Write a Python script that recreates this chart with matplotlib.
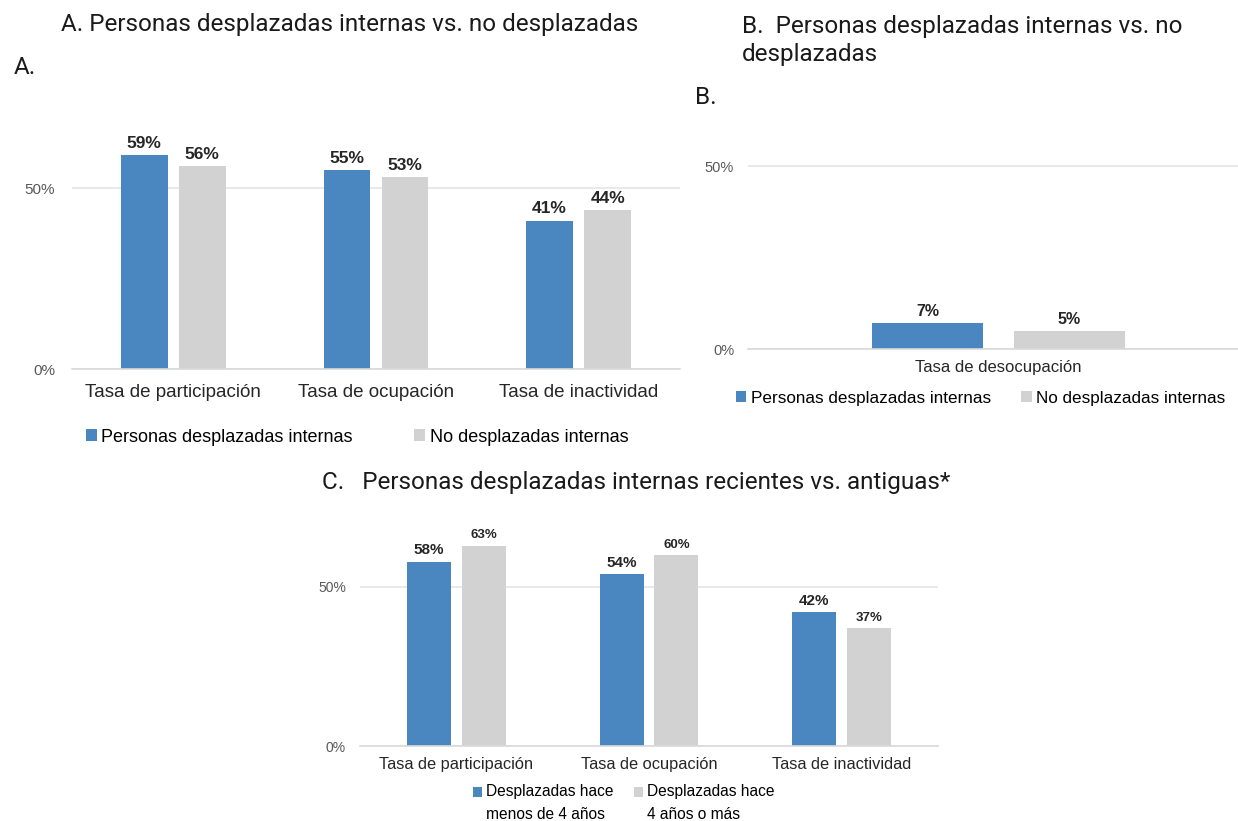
import numpy as np
import matplotlib
matplotlib.use("Agg")
import matplotlib.pyplot as plt
from matplotlib.patches import Rectangle
from matplotlib.container import BarContainer
from matplotlib.legend_handler import HandlerPatch, update_from_first_child

plt.rcParams['font.family'] = ['Liberation Sans', 'DejaVu Sans']

# data
cats_a = ["Tasa de participación", "Tasa de ocupación", "Tasa de inactividad"]
desplazadas_a = [0.59, 0.55, 0.41]
no_desplazadas_a = [0.56, 0.53, 0.44]

cats_b = ["Tasa de desocupación"]
desplazadas_b = [0.07]
no_desplazadas_b = [0.05]

cats_c = ["Tasa de participación", "Tasa de ocupación", "Tasa de inactividad"]
recientes_c = [0.58, 0.54, 0.42]
antiguas_c = [0.63, 0.60, 0.37]

BLUE = '#4a86c0'
GRAY = '#d2d2d2'
W, H = 1238, 821

fig = plt.figure(figsize=(W / 100, H / 100), dpi=100)


def box(x0, x1, ytop, ybot):
    return [x0 / W, 1 - ybot / H, (x1 - x0) / W, (ybot - ytop) / H]


def style(ax, pad_y, pad_x, ysize, xsize):
    ax.set_ylim(0, 0.7)
    ax.set_yticks([0, 0.5])
    ax.set_yticklabels(['0%', '50%'])
    for s in ['top', 'right', 'left']:
        ax.spines[s].set_visible(False)
    ax.spines['bottom'].set_color('#d9d9d9')
    ax.spines['bottom'].set_linewidth(1.2)
    ax.yaxis.grid(True, color='#e3e3e3', linewidth=1.1)
    ax.set_axisbelow(True)
    ax.tick_params(axis='y', length=0, pad=pad_y, labelsize=ysize, labelcolor='#595959')
    ax.tick_params(axis='x', length=0, pad=pad_x, labelsize=xsize, labelcolor='#262626')


def labels(ax, bars, vals, size):
    for b, v in zip(bars, vals):
        ax.annotate(f"{v:.0%}", (b.get_x() + b.get_width() / 2, v),
                    xytext=(0, 3), textcoords='offset points',
                    ha='center', va='bottom', fontsize=size,
                    fontweight='bold', color='#262626')


# ---- A ----
ax_a = fig.add_axes(box(72, 680, 369 - 0.7 * 362, 369))
x = np.arange(len(cats_a))
b1 = ax_a.bar(x - 0.143, desplazadas_a, 0.23, color=BLUE, label='Personas desplazadas internas')
b2 = ax_a.bar(x + 0.143, no_desplazadas_a, 0.23, color=GRAY, label='No desplazadas internas')
ax_a.set_xlim(-0.5, 2.5)
ax_a.set_xticks(x)
ax_a.set_xticklabels(cats_a)
style(ax_a, 12, 11, 11, 13.5)
labels(ax_a, b1, desplazadas_a, 12.5)
labels(ax_a, b2, no_desplazadas_a, 12.5)
ax_a.legend(loc='center left', bbox_to_anchor=(86 / W, 1 - 437 / H),
            bbox_transform=fig.transFigure, ncol=2, frameon=False,
            fontsize=13, handlelength=0.6, handleheight=0.6,
            handletextpad=0.25, columnspacing=3.4, borderpad=0, borderaxespad=0)

# ---- B ----
ax_b = fig.add_axes(box(748, 1238, 349 - 0.7 * 366, 349))
xb = np.arange(len(cats_b))
b3 = ax_b.bar(xb - 0.141, desplazadas_b, 0.222, color=BLUE, label='Personas desplazadas internas')
b4 = ax_b.bar(xb + 0.141, no_desplazadas_b, 0.222, color=GRAY, label='No desplazadas internas')
ax_b.set_xlim(-0.5, 0.478)
ax_b.set_xticks(xb)
ax_b.set_xticklabels(cats_b)
style(ax_b, 10, 8, 10.5, 12)
labels(ax_b, b3, desplazadas_b, 11.5)
labels(ax_b, b4, no_desplazadas_b, 11.5)
ax_b.legend(loc='center left', bbox_to_anchor=(736 / W, 1 - 398 / H),
            bbox_transform=fig.transFigure, ncol=2, frameon=False,
            fontsize=12.3, handlelength=0.6, handleheight=0.6,
            handletextpad=0.25, columnspacing=1.8, borderpad=0, borderaxespad=0)

# ---- C ----
ax_c = fig.add_axes(box(360, 938, 746 - 0.7 * 318, 746))
xc = np.arange(len(cats_c))
b5 = ax_c.bar(xc - 0.142, recientes_c, 0.228, color=BLUE,
              label='Desplazadas hace\nmenos de 4 años')
b6 = ax_c.bar(xc + 0.142, antiguas_c, 0.228, color=GRAY,
              label='Desplazadas hace\n4 años o más')
ax_c.set_xlim(-0.5, 2.5)
ax_c.set_xticks(xc)
ax_c.set_xticklabels(cats_c)
style(ax_c, 10, 8, 10, 11.8)
labels(ax_c, b5, recientes_c, 11)
labels(ax_c, b6, antiguas_c, 9.5)


def top_square(legend, orig_handle, xdescent, ydescent, width, height, fontsize):
    # square next to the first line of a two-line label
    s = 0.6 * fontsize
    return Rectangle((-xdescent, 0.8 * fontsize), s, s)


leg_c = ax_c.legend(loc='center left', bbox_to_anchor=(473 / W, 1 - 803 / H),
                    bbox_transform=fig.transFigure, ncol=2, frameon=False,
                    fontsize=11.2, handlelength=0.6, handleheight=0.6,
                    handletextpad=0.25, columnspacing=1.3, borderpad=0, borderaxespad=0,
                    handler_map={BarContainer: HandlerPatch(patch_func=top_square,
                                                            update_func=update_from_first_child)})
for t in leg_c.get_texts():
    t.set_linespacing(1.7)

# ---- titles ----
tfont = dict(family=['Roboto', 'DejaVu Sans'], fontsize=17.5, color='#1a1a1a')
fig.text(61 / W, 1 - 25 / H, "A. Personas desplazadas internas vs. no desplazadas",
         ha='left', va='center', **tfont)
fig.text(14 / W, 1 - 67 / H, "A.", ha='left', va='center', **tfont)
fig.text(742 / W, 1 - 40.5 / H, "B.  Personas desplazadas internas vs. no\ndesplazadas",
         ha='left', va='center', linespacing=1.25, **tfont)
fig.text(695 / W, 1 - 97 / H, "B.", ha='left', va='center', **tfont)
fig.text(322 / W, 1 - 482 / H, "C.   Personas desplazadas internas recientes vs. antiguas*",
         ha='left', va='center', **tfont)

fig.savefig("out.png", dpi=100)
